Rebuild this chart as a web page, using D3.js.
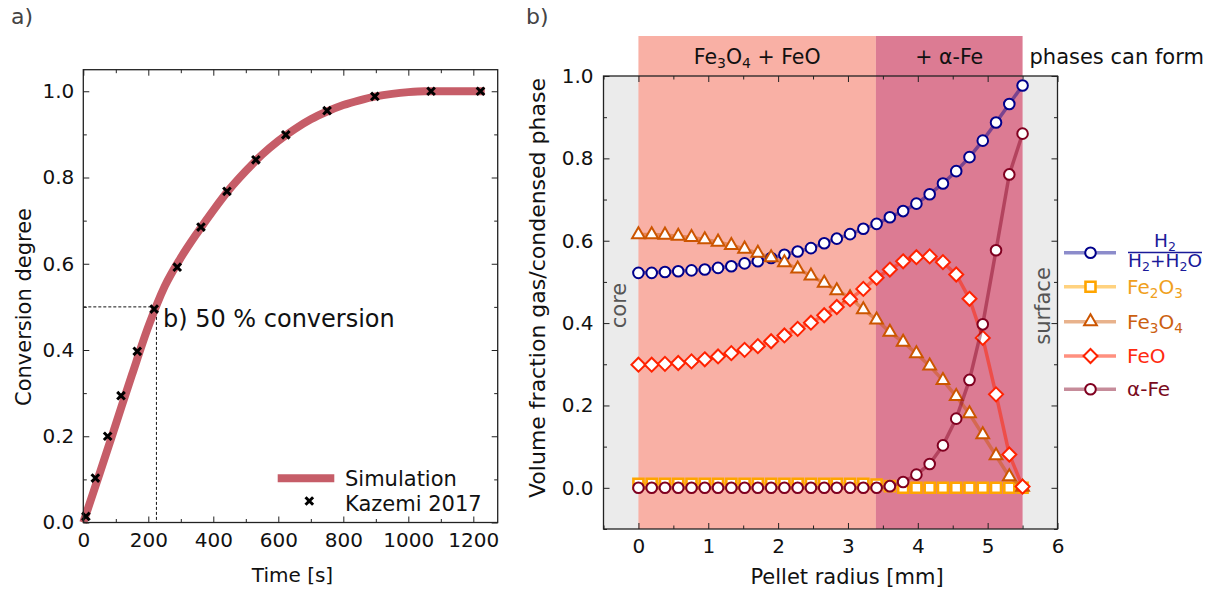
<!DOCTYPE html>
<html>
<head>
<meta charset="utf-8">
<script src="https://cdn.jsdelivr.net/npm/d3@7"></script>
<style>
  html, body { margin: 0; padding: 0; background: #fff; }
  svg { display: block; font-family: "DejaVu Sans", Verdana, sans-serif; }
</style>
</head>
<body>
<svg id="chart" width="1217" height="591"></svg>
<script>
// ---------------- DATA ----------------
// Panel a: conversion vs time
const timeSim = [0, 50, 100, 150, 200, 250, 300, 350, 400, 450, 500, 550, 600, 650, 700, 750, 800, 850, 900, 950, 1000, 1050, 1100, 1150, 1235];
const convSim = [0, 0.113, 0.228, 0.343, 0.454, 0.547, 0.614, 0.671, 0.724, 0.773, 0.815, 0.853, 0.885, 0.912, 0.935, 0.953, 0.968, 0.979, 0.988, 0.994, 0.998, 1.0, 1.0, 1.0, 1.0];
const timeExp = [8, 37, 75, 116, 166, 218, 289, 362, 442, 531, 623, 750, 897, 1070, 1222];
const convExp = [0.014, 0.103, 0.2, 0.294, 0.397, 0.495, 0.592, 0.685, 0.768, 0.841, 0.899, 0.955, 0.988, 1.0, 1.0];
const halfTime = 225;
const halfConv = 0.5;
const xTicksA = [0, 200, 400, 600, 800, 1000, 1200];
const yTicksA = [0, 0.2, 0.4, 0.6, 0.8, 1.0];
const legendA = ["Simulation", "Kazemi 2017"];

// Panel b: fractions vs pellet radius
const radius = [0, 0.19, 0.38, 0.57, 0.76, 0.95, 1.14, 1.33, 1.52, 1.71, 1.90, 2.09, 2.28, 2.47, 2.66, 2.84, 3.03, 3.22, 3.41, 3.60, 3.79, 3.98, 4.17, 4.36, 4.55, 4.74, 4.93, 5.12, 5.31, 5.50];
const h2Frac = [0.522, 0.522, 0.524, 0.526, 0.528, 0.530, 0.534, 0.538, 0.545, 0.550, 0.558, 0.566, 0.574, 0.582, 0.594, 0.605, 0.616, 0.629, 0.641, 0.657, 0.672, 0.690, 0.713, 0.739, 0.769, 0.803, 0.843, 0.887, 0.932, 0.977];
const fe2o3 = [0.010, 0.010, 0.010, 0.010, 0.010, 0.010, 0.010, 0.010, 0.010, 0.010, 0.010, 0.010, 0.010, 0.010, 0.010, 0.010, 0.010, 0.010, 0.008, 0.004, 0.0, 0.0, 0.0, 0.0, 0.0, 0.0, 0.0, 0.0, 0.0, 0.0];
const fe3o4 = [0.615, 0.615, 0.614, 0.611, 0.608, 0.603, 0.597, 0.589, 0.580, 0.570, 0.559, 0.547, 0.532, 0.515, 0.497, 0.479, 0.462, 0.433, 0.408, 0.378, 0.354, 0.326, 0.296, 0.261, 0.222, 0.180, 0.129, 0.078, 0.027, 0.002];
const feo = [0.299, 0.299, 0.301, 0.303, 0.307, 0.312, 0.319, 0.327, 0.335, 0.344, 0.356, 0.370, 0.386, 0.401, 0.419, 0.439, 0.458, 0.483, 0.510, 0.530, 0.550, 0.560, 0.562, 0.548, 0.518, 0.459, 0.364, 0.227, 0.081, 0.003];
const alphaFe = [0, 0, 0, 0, 0, 0, 0, 0, 0, 0, 0, 0, 0, 0, 0, 0, 0, 0, 0, 0.004, 0.014, 0.032, 0.058, 0.103, 0.168, 0.262, 0.397, 0.577, 0.761, 0.860];
const phaseEdges = [0, 3.4, 5.5];
const phaseLabels = ["Fe3O4 + FeO", "+ α-Fe"];
const xTicksB = [0, 1, 2, 3, 4, 5, 6];
const yTicksB = [0, 0.2, 0.4, 0.6, 0.8, 1.0];

// ---------------- DRAW ----------------
const svg = d3.select("#chart");
const FONT = '"DejaVu Sans", Verdana, sans-serif';
const frameColor = "#222";

function styleAxis(g, size) {
  g.select(".domain").remove();
  g.selectAll(".tick line").attr("stroke", frameColor).attr("stroke-width", 1);
  if (size > 0) {
    g.selectAll(".tick text").attr("font-size", size).attr("font-family", FONT).attr("fill", "#111");
  } else {
    g.selectAll(".tick text").remove();
  }
}
function frameTicks(x, y, L, R, T, B, xMinor, yMinor, xMajor, yMajor) {
  const g = svg.append("g");
  const defs = [
    [d3.axisBottom(x).tickValues(xMinor).tickSize(-3.5), `translate(0,${B})`],
    [d3.axisBottom(x).tickValues(xMajor).tickSize(-6), `translate(0,${B})`],
    [d3.axisTop(x).tickValues(xMinor).tickSize(-3.5), `translate(0,${T})`],
    [d3.axisTop(x).tickValues(xMajor).tickSize(-6), `translate(0,${T})`],
    [d3.axisLeft(y).tickValues(yMinor).tickSize(-3.5), `translate(${L},0)`],
    [d3.axisLeft(y).tickValues(yMajor).tickSize(-6), `translate(${L},0)`],
    [d3.axisRight(y).tickValues(yMinor).tickSize(-3.5), `translate(${R},0)`],
    [d3.axisRight(y).tickValues(yMajor).tickSize(-6), `translate(${R},0)`]
  ];
  defs.forEach(([ax, tr]) => { const a = g.append("g").attr("transform", tr).call(ax); styleAxis(a, 0); });
}

// ===== Panel a =====
const A = { l: 83.3, r: 497.7, t: 69.7, b: 522.5 };
const xA = d3.scaleLinear().domain([0, 1275]).range([A.l, A.r]);
const yA = d3.scaleLinear().domain([0, 1.05]).range([A.b, A.t]);

svg.append("text").attr("x", 11).attr("y", 24).attr("font-size", 22).attr("fill", "#444").text("a)");

// dashed guide lines
svg.append("line").attr("x1", A.l).attr("x2", xA(halfTime)).attr("y1", yA(halfConv)).attr("y2", yA(halfConv))
  .attr("stroke", "#111").attr("stroke-width", 1).attr("stroke-dasharray", "3,2");
svg.append("line").attr("x1", xA(halfTime)).attr("x2", xA(halfTime)).attr("y1", yA(halfConv)).attr("y2", A.b)
  .attr("stroke", "#111").attr("stroke-width", 1).attr("stroke-dasharray", "3,2");

const simColor = "#c65d68";
const simData = timeSim.map((t, i) => [t, convSim[i]]);
svg.append("path").datum(simData)
  .attr("d", d3.line().x(d => xA(d[0])).y(d => yA(d[1])).curve(d3.curveMonotoneX))
  .attr("fill", "none").attr("stroke", simColor).attr("stroke-width", 8).attr("stroke-linecap", "butt");

const xMark = "M-3.8,-3.8L3.8,3.8M-3.8,3.8L3.8,-3.8";
svg.append("g").selectAll("path").data(timeExp.map((t, i) => [t, convExp[i]])).join("path")
  .attr("transform", d => `translate(${xA(d[0])},${yA(d[1])})`)
  .attr("d", xMark).attr("stroke", "#000").attr("stroke-width", 3).attr("fill", "none");

svg.append("text").attr("x", xA(halfTime) + 6.5).attr("y", 327).attr("font-size", 24).attr("fill", "#111")
  .text("b) 50 % conversion");

// legend a
svg.append("line").attr("x1", 277.7).attr("x2", 334.3).attr("y1", 478.3).attr("y2", 478.3)
  .attr("stroke", simColor).attr("stroke-width", 8);
svg.append("path").attr("transform", "translate(309.3,501)").attr("d", xMark)
  .attr("stroke", "#000").attr("stroke-width", 3).attr("fill", "none");
svg.append("text").attr("x", 345).attr("y", 485.5).attr("font-size", 21).attr("fill", "#111").text(legendA[0]);
svg.append("text").attr("x", 345).attr("y", 510.5).attr("font-size", 21).attr("fill", "#111").text(legendA[1]);

// frame a
svg.append("rect").attr("x", A.l).attr("y", A.t).attr("width", A.r - A.l).attr("height", A.b - A.t)
  .attr("fill", "none").attr("stroke", frameColor).attr("stroke-width", 1.3);
frameTicks(xA, yA, A.l, A.r, A.t, A.b,
  d3.range(100, 1275, 200), [0.1, 0.3, 0.5, 0.7, 0.9], xTicksA, yTicksA);
const gxA = svg.append("g").attr("transform", `translate(0,${A.b})`)
  .call(d3.axisBottom(xA).tickValues(xTicksA).tickSize(0).tickPadding(10).tickFormat(d3.format("d")));
styleAxis(gxA, 20);
const gyA = svg.append("g").attr("transform", `translate(${A.l},0)`)
  .call(d3.axisLeft(yA).tickValues(yTicksA).tickSize(0).tickPadding(9).tickFormat(d3.format(".1f")));
styleAxis(gyA, 20);
svg.append("text").attr("x", (A.l + A.r) / 2 + 2).attr("y", 582).attr("text-anchor", "middle")
  .attr("font-size", 20).attr("fill", "#111").text("Time [s]");
svg.append("text").attr("transform", "translate(31,307) rotate(-90)").attr("text-anchor", "middle")
  .attr("font-size", 21).attr("fill", "#111").text("Conversion degree");

// ===== Panel b =====
const B = { l: 603.5, r: 1057.5, t: 76, b: 529 };
const bandTop = 36;
const xB = d3.scaleLinear().domain([-0.5, 6]).range([B.l, B.r]);
const yB = d3.scaleLinear().domain([-0.1, 1]).range([B.b, B.t]);

svg.append("text").attr("x", 526).attr("y", 24).attr("font-size", 22).attr("fill", "#444").text("b)");

svg.append("rect").attr("x", B.l).attr("y", B.t).attr("width", B.r - B.l).attr("height", B.b - B.t).attr("fill", "#ebebeb");
const bandColors = ["#f9b0a5", "#dc7b93"];
for (let i = 0; i < 2; i++) {
  svg.append("rect").attr("x", xB(phaseEdges[i])).attr("y", bandTop)
    .attr("width", xB(phaseEdges[i + 1]) - xB(phaseEdges[i])).attr("height", B.b - bandTop)
    .attr("fill", bandColors[i]);
}
// chemical formula text with subscripts (no empty spans)
function chemText(parent, x, y, size, parts, anchor, fill) {
  const t = parent.append("text").attr("x", x).attr("y", y).attr("font-size", size)
    .attr("text-anchor", anchor).attr("fill", fill);
  let shift = 0;
  parts.forEach(p => {
    if (p.sub) {
      const d = size * 0.22 - shift;
      t.append("tspan").attr("font-size", size * 0.68).attr("dy", d).text(p.sub);
      shift = size * 0.22;
    } else {
      const sp = t.append("tspan").text(p.t);
      if (shift !== 0) { sp.attr("dy", -shift); shift = 0; }
    }
  });
  return t;
}
chemText(svg, (xB(phaseEdges[0]) + xB(phaseEdges[1])) / 2, 63.5, 20.5,
  [{t: "Fe"}, {sub: "3"}, {t: "O"}, {sub: "4"}, {t: " + FeO"}], "middle", "#111");
svg.append("text").attr("x", (xB(phaseEdges[1]) + xB(phaseEdges[2])) / 2).attr("y", 63.5)
  .attr("text-anchor", "middle").attr("font-size", 20.5).attr("fill", "#111").text(phaseLabels[1]);
svg.append("text").attr("x", 1029.5).attr("y", 63.5).attr("font-size", 21).attr("fill", "#111").text("phases can form");

svg.append("text").attr("transform", "translate(626,305.5) rotate(-90)").attr("text-anchor", "middle")
  .attr("font-size", 21).attr("fill", "#555").text("core");
svg.append("text").attr("transform", "translate(1050,306) rotate(-90)").attr("text-anchor", "middle")
  .attr("font-size", 21).attr("fill", "#555").text("surface");

// series
const series = [
  { name: "H2", vals: h2Frac, color: "#00008b", line: "rgba(0,0,139,0.45)", text: "#1a1a99", shape: "circle" },
  { name: "Fe2O3", vals: fe2o3, color: "#ffa500", line: "rgba(255,165,0,0.5)", text: "#f0a020", shape: "square" },
  { name: "Fe3O4", vals: fe3o4, color: "#cc5500", line: "rgba(204,85,0,0.45)", text: "#cc6010", shape: "triangle" },
  { name: "FeO", vals: feo, color: "#ff2200", line: "rgba(255,34,0,0.5)", text: "#ff2a10", shape: "diamond" },
  { name: "α-Fe", vals: alphaFe, color: "#800020", line: "rgba(128,0,32,0.45)", text: "#7a0a20", shape: "circle" }
];
function markerPath(shape) {
  if (shape === "circle") return d3.symbol(d3.symbolCircle, Math.PI * 5.3 * 5.3)();
  if (shape === "square") return "M-5,-5H5V5H-5Z";
  if (shape === "triangle") return d3.symbol(d3.symbolTriangle, 70)();
  return "M0,-7L7,0L0,7L-7,0Z";
}
const lineB = d3.line().x(d => xB(d[0])).y(d => yB(d[1]));
series.forEach(s => {
  const data = radius.map((r, i) => [r, s.vals[i]]);
  const g = svg.append("g");
  g.append("path").datum(data).attr("d", lineB).attr("fill", "none")
    .attr("stroke", s.line).attr("stroke-width", 3.5);
  g.selectAll("path.m").data(data).join("path").attr("class", "m")
    .attr("transform", d => `translate(${xB(d[0])},${yB(d[1])})`)
    .attr("d", markerPath(s.shape)).attr("fill", "#fff").attr("stroke", s.color)
    .attr("stroke-width", s.shape === "square" ? 2.6 : 2);
});

// frame b
svg.append("rect").attr("x", B.l).attr("y", B.t).attr("width", B.r - B.l).attr("height", B.b - B.t)
  .attr("fill", "none").attr("stroke", frameColor).attr("stroke-width", 1.3);
frameTicks(xB, yB, B.l, B.r, B.t, B.b,
  [-0.5, 0.5, 1.5, 2.5, 3.5, 4.5, 5.5], [-0.1, 0.1, 0.3, 0.5, 0.7, 0.9], xTicksB, yTicksB);
const gxB = svg.append("g").attr("transform", `translate(0,${B.b})`)
  .call(d3.axisBottom(xB).tickValues(xTicksB).tickSize(0).tickPadding(10).tickFormat(d3.format("d")));
styleAxis(gxB, 20);
const gyB = svg.append("g").attr("transform", `translate(${B.l},0)`)
  .call(d3.axisLeft(yB).tickValues(yTicksB).tickSize(0).tickPadding(10).tickFormat(d3.format(".1f")));
styleAxis(gyB, 20);
svg.append("text").attr("x", 847).attr("y", 584).attr("text-anchor", "middle")
  .attr("font-size", 21).attr("fill", "#111").text("Pellet radius [mm]");
svg.append("text").attr("transform", "translate(545,288) rotate(-90)").attr("text-anchor", "middle")
  .attr("font-size", 22).attr("fill", "#111").text("Volume fraction gas/condensed phase");

// legend b
const legY = [252.7, 286.7, 321.7, 356, 389.3];
series.forEach((s, i) => {
  const g = svg.append("g");
  g.append("line").attr("x1", 1064).attr("x2", 1116).attr("y1", legY[i]).attr("y2", legY[i])
    .attr("stroke", s.line).attr("stroke-width", 3.5);
  g.append("path").attr("transform", `translate(1090.5,${legY[i]})`).attr("d", markerPath(s.shape))
    .attr("fill", "#fff").attr("stroke", s.color).attr("stroke-width", s.shape === "square" ? 2.6 : 2);
});
// H2 fraction label
chemText(svg, 1165, 246.5, 18.5, [{t: "H"}, {sub: "2"}], "middle", series[0].text);
svg.append("line").attr("x1", 1128).attr("x2", 1202).attr("y1", 252.5).attr("y2", 252.5)
  .attr("stroke", series[0].text).attr("stroke-width", 1.3);
chemText(svg, 1165, 267, 18.5, [{t: "H"}, {sub: "2"}, {t: "+H"}, {sub: "2"}, {t: "O"}], "middle", series[0].text);
chemText(svg, 1127, legY[1] + 7, 20, [{t: "Fe"}, {sub: "2"}, {t: "O"}, {sub: "3"}], "start", series[1].text);
chemText(svg, 1127, legY[2] + 7, 20, [{t: "Fe"}, {sub: "3"}, {t: "O"}, {sub: "4"}], "start", series[2].text);
svg.append("text").attr("x", 1127).attr("y", legY[3] + 7).attr("font-size", 20).attr("fill", series[3].text).text("FeO");
svg.append("text").attr("x", 1127).attr("y", legY[4] + 7).attr("font-size", 20).attr("fill", series[4].text).text("α-Fe");
</script>
</body>
</html>
